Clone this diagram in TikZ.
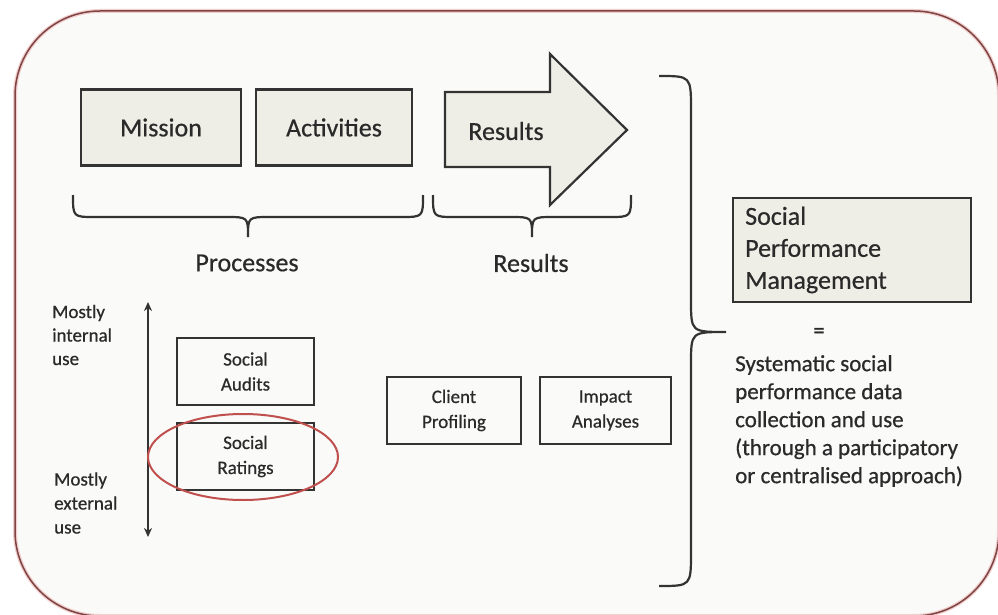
\documentclass[tikz,border=0pt]{standalone}
\usepackage{fontspec}
\setmainfont{Carlito}[FakeBold=0.6]
\usetikzlibrary{arrows.meta}
\definecolor{bgc}{HTML}{FAFAF9}
\definecolor{framec}{HTML}{7E4442}
\definecolor{frameglow}{HTML}{F2CFCF}
\definecolor{boxfill}{HTML}{EEEEE6}
\definecolor{linec}{HTML}{333333}
\definecolor{txt}{HTML}{2A2A2A}
\definecolor{ellc}{HTML}{C0504D}
\tikzset{
  bigbox/.style={draw=linec, line width=2.2pt, fill=boxfill, minimum width=#1, minimum height=76pt, inner sep=0pt, text=txt, font=\fontsize{26}{30}\selectfont},
  smallbox/.style={draw=linec, line width=2pt, fill=bgc, minimum width=#1, minimum height=67pt, inner sep=0pt, align=center, text=txt, font=\fontsize{19}{25}\selectfont},
  bigtxt/.style={text=txt, font=\fontsize{26}{30}\selectfont, inner sep=0pt},
  smalltxt/.style={text=txt, font=\fontsize{19}{23.5}\selectfont, inner sep=0pt, align=left},
  paratxt/.style={text=txt, font=\fontsize{23}{28}\selectfont, inner sep=0pt, align=left},
  bracec/.style={draw=linec, line width=2.2pt}
}
\begin{document}
\begin{tikzpicture}[x=1pt,y=-1pt]
\useasboundingbox (0,0) rectangle (998,615);
\fill[white] (0,0) rectangle (998,615);
\draw[frameglow, line width=4pt, fill=bgc, rounded corners=85pt] (15,11) rectangle (999,616);
\draw[framec, line width=1.5pt, rounded corners=85pt] (15,11) rectangle (999,616);

% top boxes
\node[bigbox=160pt] (mission) at (161,127.5) {Mission};
\node[bigbox=156pt] (activities) at (334,127.5) {Activities};
\draw[linec, line width=2.2pt, fill=boxfill] (445,92) -- (550,92) -- (550,54) -- (627,130) -- (550,205) -- (550,167) -- (445,167) -- cycle;
\node[bigtxt] (resultsarrow) at (506,131) {Results};

% horizontal braces
\draw[bracec] (73,195) .. controls (73,217) .. (95,217) -- (226,217) .. controls (248,217) .. (248,237) .. controls (248,217) .. (270,217) -- (401,217) .. controls (423,217) .. (423,195);
\draw[bracec] (433,195) .. controls (433,217) .. (455,217) -- (510,217) .. controls (532,217) .. (532,237) .. controls (532,217) .. (554,217) -- (609,217) .. controls (631,217) .. (631,195);
\node[bigtxt] (processes) at (247,263) {Processes};
\node[bigtxt] (results) at (531,263) {Results};

% big brace
\draw[bracec] (659,76) .. controls (691,76) .. (691,110) -- (691,300) .. controls (691,332) .. (726,332) .. controls (691,332) .. (691,364) -- (691,552) .. controls (691,586) .. (659,586);

% SPM
\node[draw=linec, line width=2.2pt, fill=boxfill, minimum width=238pt, minimum height=104pt, inner sep=0pt] (spm) at (852,250) {};
\node[text=txt, font=\fontsize{26}{32}\selectfont, inner sep=0pt, align=left, anchor=west] (spmtxt) at (745,250) {Social\\Performance\\Management};
\node[paratxt] (eq) at (819,333) {=};
\node[paratxt, anchor=west] (para) at (735,421) {Systematic social\\performance data\\collection and use\\(through a participatory\\or centralised approach)};

% left axis
\coordinate (atop) at (148,302);
\coordinate (abot) at (148,537);
\draw[linec, line width=1.8pt, {Stealth[length=9pt,width=8pt]}-{Stealth[length=9pt,width=8pt]}] (atop) -- (abot);
\node[smalltxt, anchor=west] (internal) at (52,335) {Mostly\\internal\\use};
\node[smalltxt, anchor=west, font=\fontsize{19}{24}\selectfont] (external) at (54,503) {Mostly\\external\\use};

% small boxes
\node[smallbox=137pt] (audits) at (245.5,371.5) {Social\\Audits};
\node[smallbox=137pt] (ratings) at (245.5,456.5) {Social\\Ratings};
\draw[ellc, line width=2pt] (243,457) ellipse [x radius=95pt, y radius=43pt];
\node[smallbox=134pt] (client) at (454,410.5) {Client\\Profiling};
\node[smallbox=131pt] (impact) at (605.5,410.5) {Impact\\Analyses};
\end{tikzpicture}
\end{document}
